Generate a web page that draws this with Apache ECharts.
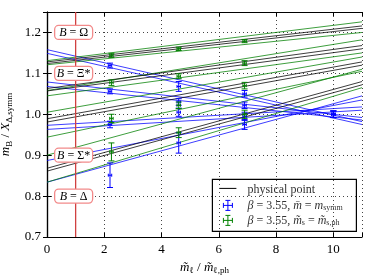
<!DOCTYPE html>
<html><head><meta charset="utf-8">
<script src="https://cdn.jsdelivr.net/npm/echarts@6/dist/echarts.min.js"></script>
<style>html,body{margin:0;padding:0;background:#fff}#c{width:374px;height:280px}</style>
</head><body><div id="c"></div>
<script>
// ---- data ----
const lineX = [0, 11];
// fit lines: [y at x=0, y at x=11]
const omegaGreen = [[1.131, 1.226], [1.121, 1.200]];
const omegaBlack = [[1.128, 1.216], [1.124, 1.210]];
const omegaBlue  = [[1.158, 0.982], [1.149, 0.975]];
const xiGreen    = [[1.058, 1.182], [1.045, 1.150]];
const xiBlack    = [[1.063, 1.168], [1.057, 1.160]];
const xiBlue     = [[1.079, 0.992], [1.068, 0.986]];
const sigmaGreen = [[1.005, 1.140], [0.944, 1.105]];
const sigmaBlack = [[0.989, 1.128], [0.981, 1.120]];
const sigmaBlue  = [[0.973, 1.018], [0.963, 1.010]];
const deltaGreen = [[0.900, 1.110], [0.834, 1.065]];
const deltaBlack = [[0.868, 1.080], [0.861, 1.072]];
const deltaBlue  = [[0.887, 1.035], [0.834, 1.045]];

// lattice points, symmetric line (blue)
const blueX = [2.2, 4.6, 6.9, 10.0];
const blueOmega = [1.119, 1.068, 1.050, 1.000];
const blueXi    = [1.056, 1.030, 1.022, 1.000];
const blueSigma = [0.975, 1.005, 0.995, 1.000];
const blueDelta = [0.851, 0.930, 0.975, 1.000];
const blueErrOmega = [0.006, 0.012, 0.008, 0.008];
const blueErrXi    = [0.006, 0.008, 0.008, 0.008];
const blueErrSigma = [0.008, 0.010, 0.010, 0.008];
const blueErrDelta = [0.030, 0.025, 0.012, 0.008];
// lattice points, ms = ms,ph (green)
const greenX = [2.25, 4.6, 6.9];
const greenOmega = [1.144, 1.160, 1.179];
const greenXi    = [1.077, 1.093, 1.125];
const greenSigma = [0.990, 1.022, 1.070];
const greenDelta = [0.908, 0.955, 1.000];
const greenErrOmega = [0.005, 0.004, 0.004];
const greenErrXi    = [0.007, 0.006, 0.006];
const greenErrSigma = [0.010, 0.008, 0.008];
const greenErrDelta = [0.022, 0.012, 0.010];
const xErr = 0.06;

const physX = 1;
const labelY = [1.2, 1.1, 0.9, 0.8];
const labelNames = ['Ω', 'Ξ*', 'Σ*', 'Δ'];
const xTicks = [0, 2, 4, 6, 8, 10];
const yTicks = [0.7, 0.8, 0.9, 1.0, 1.1, 1.2];

const BLUE = '#0000ff', GREEN = '#008000', BLACK = '#000000', RED = '#d04040';
const SERIF = '"Liberation Serif", "DejaVu Serif", serif';

const series = [];
function addLines(arr, color) {
  arr.forEach(p => series.push({
    type: 'line', data: [[lineX[0], p[0]], [lineX[1], p[1]]], showSymbol: false, symbol: 'none',
    lineStyle: { color: color, width: 0.9, opacity: 0.85 }, silent: true, z: 3
  }));
}
addLines(omegaBlue, BLUE); addLines(xiBlue, BLUE); addLines(sigmaBlue, BLUE); addLines(deltaBlue, BLUE);
addLines(omegaGreen, GREEN); addLines(xiGreen, GREEN); addLines(sigmaGreen, GREEN); addLines(deltaGreen, GREEN);
addLines(omegaBlack, BLACK); addLines(xiBlack, BLACK); addLines(sigmaBlack, BLACK); addLines(deltaBlack, BLACK);

function errRender(color) {
  return function (params, api) {
    const x = api.value(0), y = api.value(1), ey = api.value(2), ex = api.value(3);
    const t = api.coord([x, y + ey]), b = api.coord([x, y - ey]);
    const l = api.coord([x - ex, y]), r = api.coord([x + ex, y]);
    const cap = 3, st = { stroke: color, lineWidth: 1 };
    const L = (x1, y1, x2, y2) => ({ type: 'line', shape: { x1, y1, x2, y2 }, style: st });
    return { type: 'group', children: [
      L(t[0], t[1], b[0], b[1]), L(t[0] - cap, t[1], t[0] + cap, t[1]), L(b[0] - cap, b[1], b[0] + cap, b[1]),
      L(l[0], l[1], r[0], r[1]), L(l[0], l[1] - 1.5, l[0], l[1] + 1.5), L(r[0], r[1] - 1.5, r[0], r[1] + 1.5)
    ]};
  };
}
function addErr(xs, ys, es, color) {
  series.push({ type: 'custom', renderItem: errRender(color), z: 5, silent: true,
    data: xs.map((x, i) => [x, ys[i], es[i], xErr]) });
}
addErr(blueX, blueOmega, blueErrOmega, BLUE); addErr(blueX, blueXi, blueErrXi, BLUE);
addErr(blueX, blueSigma, blueErrSigma, BLUE); addErr(blueX, blueDelta, blueErrDelta, BLUE);
addErr(greenX, greenOmega, greenErrOmega, GREEN); addErr(greenX, greenXi, greenErrXi, GREEN);
addErr(greenX, greenSigma, greenErrSigma, GREEN); addErr(greenX, greenDelta, greenErrDelta, GREEN);

// red physical-point line
series.push({ type: 'line', data: [[physX, 0.7], [physX, 1.25]], symbol: 'none',
  lineStyle: { color: RED, width: 1.3 }, silent: true, z: 6 });

// baryon labels
series.push({ type: 'custom', z: 20, silent: true, clip: false,
  data: labelY.map((y, i) => [physX, y, i]),
  renderItem: function (params, api) {
    const c = api.coord([api.value(0), api.value(1)]);
    const i = api.value(2);
    const w = 38, h = 14, cx = c[0] - 2;
    return { type: 'group', children: [
      { type: 'rect', shape: { x: cx - w / 2, y: c[1] - h / 2, width: w, height: h, r: 4 },
        style: { fill: '#fff', stroke: '#f28a8a', lineWidth: 1.3 }, z2: 10 },
      { type: 'text', x: cx, y: c[1] + 0.5, z2: 11, style: {
        text: '{i|B} = ' + labelNames[i], align: 'center', verticalAlign: 'middle',
        font: '12px ' + SERIF, fill: '#000',
        rich: { i: { fontStyle: 'italic', fontFamily: SERIF, fontSize: 12 } } } }
    ]};
  }
});

const axisFont = { fontFamily: SERIF, fontSize: 13, color: '#000' };
const option = {
  animation: false,
  grid: { left: 47, right: 12, top: 12, bottom: 43, containLabel: false, outerBoundsMode: 'none' },
  xAxis: [{
    type: 'value', min: 0, max: 11, interval: 2,
    axisLine: { lineStyle: { color: '#000', width: 1.2 } },
    axisTick: { inside: true, length: 4, lineStyle: { color: '#000' } },
    axisLabel: { ...axisFont, margin: 6, formatter: v => xTicks.includes(v) ? String(v) : '' },
    splitLine: { show: true, lineStyle: { color: '#444', type: [1, 3], width: 1 } },
    name: '{i|m̃}{s|ℓ}{n| / }{i|m̃}{s|ℓ,ph}', nameLocation: 'middle', nameGap: 19,
    nameTextStyle: { fontFamily: SERIF, fontSize: 13, color: '#000',
      rich: { i: { fontStyle: 'italic', fontFamily: SERIF, fontSize: 13, lineHeight: 16 },
              n: { fontFamily: SERIF, fontSize: 13, lineHeight: 16 },
              s: { fontFamily: SERIF, fontSize: 9, verticalAlign: 'bottom', lineHeight: 16 } } }
  }, {
    type: 'value', min: 0, max: 11, interval: 2, position: 'top',
    axisLine: { lineStyle: { color: '#000', width: 1.2 } },
    axisTick: { inside: true, length: 4, lineStyle: { color: '#000' } },
    axisLabel: { show: false }, splitLine: { show: false }
  }],
  yAxis: [{
    type: 'value', min: 0.7, max: 1.25, interval: 0.1,
    axisLine: { show: true, lineStyle: { color: '#000', width: 1.2 } },
    axisTick: { show: true, inside: true, length: 4, lineStyle: { color: '#000' } },
    axisLabel: { ...axisFont, margin: 6, formatter: v => {
      const r = Math.round(v * 10) / 10; return yTicks.some(t => Math.abs(t - v) < 1e-6) ? r.toFixed(1) : ''; } },
    splitLine: { show: true, lineStyle: { color: '#444', type: [1, 3], width: 1 } },
    name: '{i|m}{s|B}{n| / }{i|X}{s|Δ,symm}', nameLocation: 'middle', nameGap: 24, nameRotate: 90,
    nameTextStyle: { fontFamily: SERIF, fontSize: 13, color: '#000',
      rich: { i: { fontStyle: 'italic', fontFamily: SERIF, fontSize: 13, lineHeight: 16 },
              n: { fontFamily: SERIF, fontSize: 13, lineHeight: 16 },
              s: { fontFamily: SERIF, fontSize: 9, verticalAlign: 'bottom', lineHeight: 16 } } }
  }, {
    type: 'value', min: 0.7, max: 1.25, interval: 0.1, position: 'right',
    axisLine: { show: true, lineStyle: { color: '#000', width: 1.2 } },
    axisTick: { show: true, inside: true, length: 4, lineStyle: { color: '#000' } },
    axisLabel: { show: false }, splitLine: { show: false }
  }],
  series: series,
  graphic: [{
    type: 'group', right: 17, bottom: 48, z: 100,
    children: [
      { type: 'rect', shape: { x: 0, y: 0, width: 144, height: 52 }, style: { fill: '#fff', stroke: '#000', lineWidth: 1.2 } },
      { type: 'line', shape: { x1: 7, y1: 9, x2: 24, y2: 9 }, style: { stroke: '#000', lineWidth: 1 } },
      // blue cross
      { type: 'line', shape: { x1: 15.5, y1: 21, x2: 15.5, y2: 31 }, style: { stroke: BLUE, lineWidth: 1 } },
      { type: 'line', shape: { x1: 11, y1: 26, x2: 20, y2: 26 }, style: { stroke: BLUE, lineWidth: 1 } },
      { type: 'line', shape: { x1: 13, y1: 21, x2: 18, y2: 21 }, style: { stroke: BLUE, lineWidth: 1 } },
      { type: 'line', shape: { x1: 13, y1: 31, x2: 18, y2: 31 }, style: { stroke: BLUE, lineWidth: 1 } },
      { type: 'line', shape: { x1: 11, y1: 23.5, x2: 11, y2: 28.5 }, style: { stroke: BLUE, lineWidth: 1 } },
      { type: 'line', shape: { x1: 20, y1: 23.5, x2: 20, y2: 28.5 }, style: { stroke: BLUE, lineWidth: 1 } },
      // green cross
      { type: 'line', shape: { x1: 15.5, y1: 36, x2: 15.5, y2: 46 }, style: { stroke: GREEN, lineWidth: 1 } },
      { type: 'line', shape: { x1: 11, y1: 41, x2: 20, y2: 41 }, style: { stroke: GREEN, lineWidth: 1 } },
      { type: 'line', shape: { x1: 13, y1: 36, x2: 18, y2: 36 }, style: { stroke: GREEN, lineWidth: 1 } },
      { type: 'line', shape: { x1: 13, y1: 46, x2: 18, y2: 46 }, style: { stroke: GREEN, lineWidth: 1 } },
      { type: 'line', shape: { x1: 11, y1: 38.5, x2: 11, y2: 43.5 }, style: { stroke: GREEN, lineWidth: 1 } },
      { type: 'line', shape: { x1: 20, y1: 38.5, x2: 20, y2: 43.5 }, style: { stroke: GREEN, lineWidth: 1 } },
      { type: 'text', x: 35, y: 10, style: { text: 'physical point', font: '12px ' + SERIF, fill: '#333', verticalAlign: 'middle' } },
      { type: 'text', x: 35, y: 26, style: { text: '{i|β} = 3.55, {i|m̄} = {i|m}{s|symm}', verticalAlign: 'middle', fill: '#333',
        font: '12px ' + SERIF, rich: { i: { fontStyle: 'italic', fontFamily: SERIF, fontSize: 12, lineHeight: 14 },
          s: { fontFamily: SERIF, fontSize: 8, verticalAlign: 'bottom', lineHeight: 14 } } } },
      { type: 'text', x: 35, y: 41, style: { text: '{i|β} = 3.55, {i|m̃}{s|s} = {i|m̃}{s|s,ph}', verticalAlign: 'middle', fill: '#333',
        font: '12px ' + SERIF, rich: { i: { fontStyle: 'italic', fontFamily: SERIF, fontSize: 12, lineHeight: 14 },
          s: { fontFamily: SERIF, fontSize: 8, verticalAlign: 'bottom', lineHeight: 14 } } } }
    ]
  }]
};
const chart = echarts.init(document.getElementById('c'), null, { renderer: 'canvas' });
chart.setOption(option);
</script></body></html>
